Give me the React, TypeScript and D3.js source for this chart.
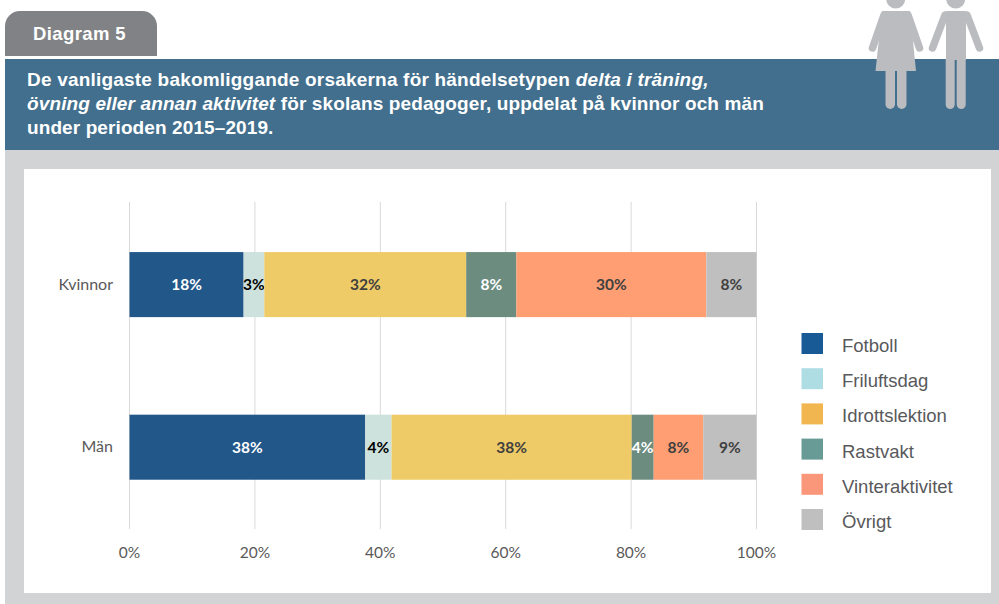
import React from "react";
import * as d3 from "d3";

const categories = ["Kvinnor", "Män"];
const seriesNames = ["Fotboll", "Friluftsdag", "Idrottslektion", "Rastvakt", "Vinteraktivitet", "Övrigt"];
const kvinnor = [18.2, 3.3, 32.2, 8.0, 30.3, 8.0];
const man = [37.6, 4.2, 38.3, 3.5, 7.9, 8.5];
const kvinnorLabels = ["18%", "3%", "32%", "8%", "30%", "8%"];
const manLabels = ["38%", "4%", "38%", "4%", "8%", "9%"];
const barColors = ["#22578a", "#cde2dd", "#eecb66", "#6b8c7f", "#ff9e72", "#bfbfbf"];
const legendColors = ["#175a96", "#aedde4", "#f1b64f", "#689a96", "#fa9679", "#bfbfbf"];
const labelColors = ["#ffffff", "#000000", "#404040", "#ffffff", "#404040", "#404040"];
const ticks = [0, 20, 40, 60, 80, 100];

const rows = [kvinnor, man];
const rowLabels = [kvinnorLabels, manLabels];

const LATO = "Lato, Carlito, sans-serif";
const HELV = "'Liberation Sans', Arial, sans-serif";
const ICON = "#babcbf";

export default function App() {
  const x = d3.scaleLinear().domain([0, 100]).range([129.5, 756.5]);
  const y = d3.scaleBand().domain(categories).range([203.3, 528.5]).paddingInner(0.6).paddingOuter(0.3);
  const bw = y.bandwidth();
  const yc = (c: string) => y(c)! + bw / 2;
  const stack = d3.stack<number[]>().keys(d3.range(6) as any).value((d, k) => d[k as any]);
  const stacked = stack(rows);

  return (
    <svg width={999} height={604} viewBox="0 0 999 604" style={{ position: "absolute", left: 0, top: 0, display: "block", background: "#fff" }}>
      <path d="M5,56 V26 A15,15 0 0 1 20,11 H142 A15,15 0 0 1 157,26 V56 Z" fill="#808285" />
      <text x={33} y={40} fontFamily={HELV} fontWeight={700} fontSize={18.5} letterSpacing={0.4} fill="#fff">Diagram 5</text>

      <rect x={5} y={59} width={994} height={91} fill="#426f8d" />
      <rect x={5} y={150} width={994} height={454} fill="#d1d3d4" />
      <rect x={24} y={169} width={967} height={424} fill="#fff" />

      <g fontFamily={HELV} fontSize={19} fontWeight={700} fill="#fff">
        <text x={27} y={86} letterSpacing={0.2}>De vanligaste bakomliggande orsakerna för händelsetypen <tspan fontStyle="italic">delta i träning,</tspan></text>
        <text x={27} y={110} letterSpacing={0.12}><tspan fontStyle="italic">övning eller annan aktivitet</tspan> för skolans pedagoger, uppdelat på kvinnor och män</text>
        <text x={27} y={134} letterSpacing={0.1}>under perioden 2015–2019.</text>
      </g>

      <g fill={ICON}>
        <circle cx={895.7} cy={-1} r={9.5} />
        <path d="M882,11 H910 L916,71 H875.5 Z" />
        <rect x={885.5} y={60} width={9.5} height={49} rx={4.7} />
        <rect x={897} y={60} width={9.5} height={49} rx={4.7} />
        <path d="M884,15 L872.5,48 M908,15 L919.5,48" stroke={ICON} strokeWidth={7.5} strokeLinecap="round" />
        <circle cx={955.7} cy={-1} r={9.5} />
        <path d="M946,11 H966 V60 H946 Z" />
        <rect x={945.7} y={55} width={9} height={54} rx={4.5} />
        <rect x={956.7} y={55} width={9} height={54} rx={4.5} />
        <path d="M945,15 L932.5,48 M967,15 L979.5,48" stroke={ICON} strokeWidth={7.5} strokeLinecap="round" />
      </g>

      {ticks.map((t) => (
        <g key={t}>
          <line x1={x(t)} x2={x(t)} y1={202} y2={529} stroke="#d9d9d9" strokeWidth={1} />
          <text x={x(t)} y={557.5} textAnchor="middle" fontFamily={LATO} fontSize={15.5} fill="#595959">{t}%</text>
        </g>
      ))}

      {categories.map((c) => (
        <text key={c} x={113} y={yc(c) + 5} textAnchor="end" fontFamily={LATO} fontSize={16} fill="#595959">{c}</text>
      ))}

      {stacked.map((s, i) => (
        <g key={i}>
          {s.map((d, j) => {
            const c = categories[j];
            return (
              <g key={c}>
                <rect x={x(d[0])} y={yc(c) - bw / 2} width={x(d[1]) - x(d[0])} height={bw} fill={barColors[i]} />
                <text x={(x(d[0]) + x(d[1])) / 2} y={yc(c) + 5.5} textAnchor="middle" fontFamily={LATO} fontWeight={700} fontSize={15.5} fill={labelColors[i]}>{rowLabels[j][i]}</text>
              </g>
            );
          })}
        </g>
      ))}

      {seriesNames.map((n, i) => (
        <g key={n}>
          <rect x={801.5} y={333 + i * 35.2} width={21.5} height={21} fill={legendColors[i]} />
          <text x={842} y={352 + i * 35.2} fontFamily={HELV} fontSize={18.5} fill="#58595b">{n}</text>
        </g>
      ))}
    </svg>
  );
}
